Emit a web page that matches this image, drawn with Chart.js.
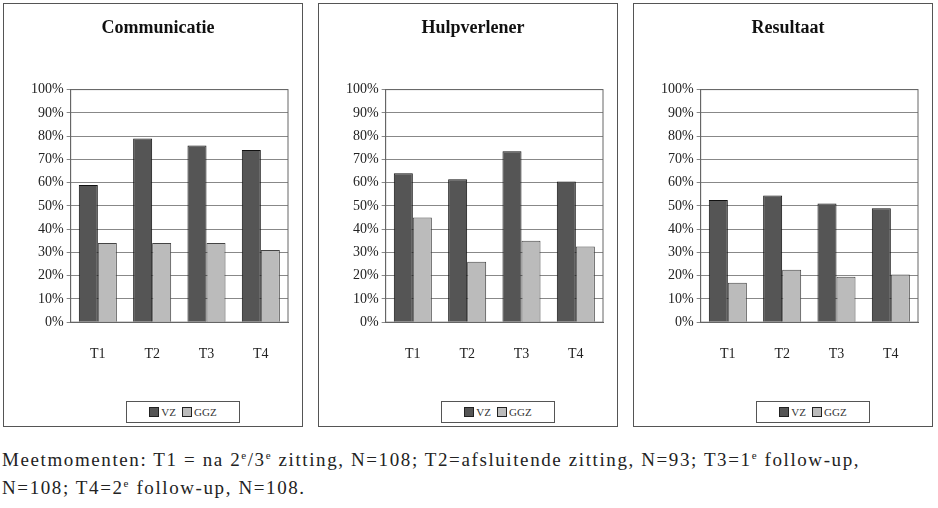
<!DOCTYPE html>
<html><head><meta charset="utf-8">
<script src="https://cdn.jsdelivr.net/npm/chart.js@4"></script>
<style>
body{margin:0;background:#fff;width:938px;height:508px;position:relative;font-family:"Liberation Serif",serif;overflow:hidden}
.panel{position:absolute;top:3px;width:300px;height:424px;border:1px solid #555;box-sizing:border-box}
.panel canvas{position:absolute;left:0;top:0}
.leg{position:absolute;top:397px;left:122px;width:114px;height:22px;border:1px solid #555;box-sizing:border-box;font-size:11px;display:flex;align-items:center;justify-content:center;gap:6px;color:#333}
.sw{display:inline-block;width:8px;height:8px;border:1px solid #222;margin-right:2px;vertical-align:-1px}
.cap{position:absolute;left:2px;top:446px;font-size:19px;letter-spacing:1.6px;line-height:28px;color:#222;white-space:nowrap}
sup{font-size:11px;line-height:0}
</style></head><body>
<div class="panel" style="left:3px"><canvas id="c0" width="298" height="385"></canvas><div class="leg"><span><span class="sw" style="background:#555"></span>VZ</span><span><span class="sw" style="background:#bbb"></span>GGZ</span></div></div>
<div class="panel" style="left:318px"><canvas id="c1" width="298" height="385"></canvas><div class="leg"><span><span class="sw" style="background:#555"></span>VZ</span><span><span class="sw" style="background:#bbb"></span>GGZ</span></div></div>
<div class="panel" style="left:633px"><canvas id="c2" width="298" height="385"></canvas><div class="leg"><span><span class="sw" style="background:#555"></span>VZ</span><span><span class="sw" style="background:#bbb"></span>GGZ</span></div></div>
<div class="cap">Meetmomenten: T1 = na 2<sup>e</sup>/3<sup>e</sup> zitting, N=108; T2=afsluitende zitting, N=93; T3=1<sup>e</sup> follow-up,<br>N=108; T4=2<sup>e</sup> follow-up, N=108.</div>
<script>
const categories=["T1","T2","T3","T4"];
const titles=["Communicatie","Hulpverlener","Resultaat"];
const vzValues=[[59,79,76,74],[64,61.5,73.5,60.5],[52.5,54.5,51,49]];
const ggzValues=[[34,34,34,31],[45,26,35,32.5],[17,22.5,19.5,20.5]];
const tickFont={family:"Liberation Serif",size:14};
const boxPlugin={id:'box',afterDraw(c){const a=c.chartArea,x=c.ctx;x.save();x.strokeStyle='#666';x.lineWidth=1;x.strokeRect(a.left,a.top,a.right-a.left,a.bottom-a.top);x.restore();}};
titles.forEach((t,i)=>{
new Chart(document.getElementById('c'+i),{type:'bar',
data:{labels:categories,datasets:[
{label:'VZ',data:vzValues[i],backgroundColor:'#555',borderColor:'#111',borderWidth:1},
{label:'GGZ',data:ggzValues[i],backgroundColor:'#bbb',borderColor:'#444',borderWidth:1}]},
options:{responsive:false,animation:false,
layout:{padding:{left:24,right:14,top:0,bottom:10}},
datasets:{bar:{categoryPercentage:0.7,barPercentage:1}},
plugins:{legend:{display:false},tooltip:{enabled:false},
title:{display:true,text:t,color:'#111',font:{family:"Liberation Serif",size:18,weight:'bold'},padding:{top:14,bottom:50}}},
scales:{
x:{grid:{display:false},border:{color:'#666'},ticks:{color:'#222',font:tickFont,padding:16}},
y:{min:0,max:100,ticks:{stepSize:10,color:'#222',font:tickFont,callback:v=>v+'%'},grid:{color:'#888',drawTicks:true,tickLength:4},border:{color:'#666'}}}},
plugins:[boxPlugin]});
});
</script></body></html>
